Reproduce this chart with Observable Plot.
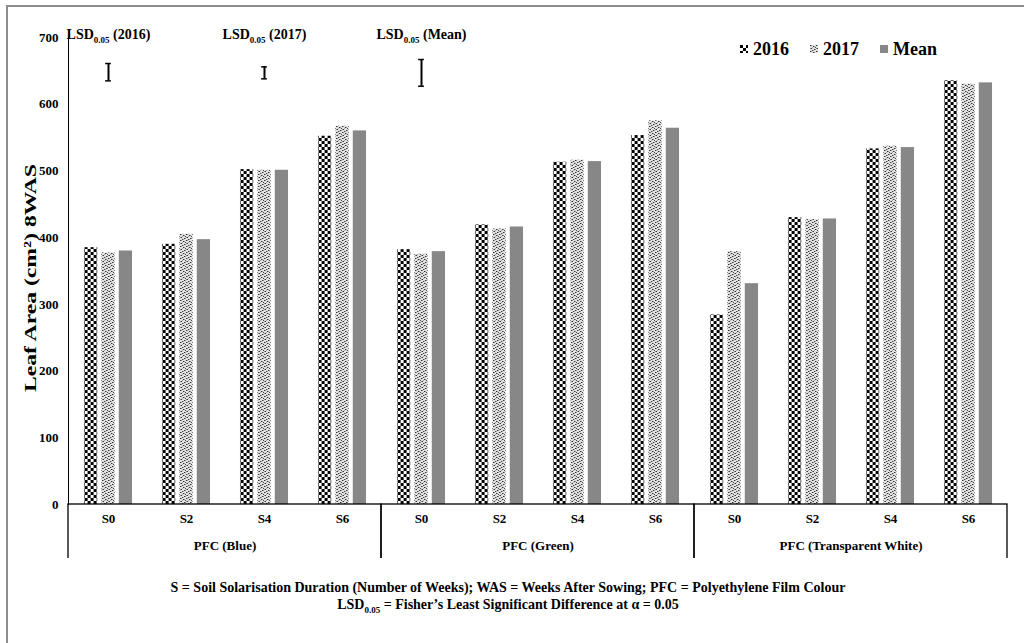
<!DOCTYPE html>
<html><head><meta charset="utf-8">
<script src="https://cdn.jsdelivr.net/npm/d3@7"></script>
<script src="https://cdn.jsdelivr.net/npm/@observablehq/plot@0.6"></script>
<style>
html,body{margin:0;padding:0;background:#fff;width:1024px;height:643px;overflow:hidden;}
body{position:relative;font-family:"Liberation Serif","Times New Roman",serif;font-weight:bold;color:#000;}
#chart{position:absolute;left:0;top:0;}
#chart svg{overflow:hidden;}
#border{position:absolute;left:6px;top:5px;width:1100px;height:700px;border:2px solid #8c8c8c;box-sizing:border-box;pointer-events:none;}
#legend{position:absolute;top:38px;left:740px;display:flex;align-items:center;font-size:18px;line-height:22px;}
#legend .item{display:flex;align-items:center;margin-right:21px;}
#legend svg{margin-right:5px;}
#caption{position:absolute;top:579px;left:0;width:1016px;text-align:center;font-size:14px;line-height:17px;}
#caption sub{font-size:9px;}
</style></head>
<body>
<svg width="0" height="0" style="position:absolute">
  <defs>
    <pattern id="p2016" width="6" height="6" patternUnits="userSpaceOnUse">
      <rect width="6" height="6" fill="#fff"/>
      <rect width="3" height="3" fill="#000"/>
      <rect x="3" y="3" width="3" height="3" fill="#000"/>
    </pattern>
    <pattern id="p2017" width="6" height="6" patternUnits="userSpaceOnUse">
      <rect width="6" height="6" fill="#e2e2e2"/>
      <rect x="0" y="0" width="1" height="1" fill="#333"/>
      <rect x="3" y="1" width="1" height="1" fill="#333"/>
      <rect x="1" y="3" width="1" height="1" fill="#333"/>
      <rect x="4" y="4" width="1" height="1" fill="#333"/>
      <rect x="2" y="5" width="1" height="1" fill="#444"/>
      <rect x="5" y="2" width="1" height="1" fill="#444"/>
      <rect x="1" y="0" width="1" height="1" fill="#8c8c8c"/>
      <rect x="4" y="1" width="1" height="1" fill="#8c8c8c"/>
      <rect x="0" y="3" width="1" height="1" fill="#8c8c8c"/>
      <rect x="5" y="4" width="1" height="1" fill="#8c8c8c"/>
      <rect x="2" y="2" width="1" height="1" fill="#a0a0a0"/>
      <rect x="3" y="5" width="1" height="1" fill="#a0a0a0"/>
    </pattern>
  </defs>
</svg>
<div id="chart"></div>
<div id="legend"></div>
<div id="caption"></div>
<div id="border"></div>
<script>
// ---- data ----
const groups = ["PFC (Blue)", "PFC (Green)", "PFC (Transparent White)"];
const durations = ["S0", "S2", "S4", "S6"];
const series = ["2016", "2017", "Mean"];
const v2016 = [385, 390, 502, 552, 382, 419, 513, 553, 284, 430, 533, 635];
const v2017 = [377, 405, 501, 567, 375, 413, 516, 575, 379, 427, 537, 630];
const vMean = [380, 397, 501, 560, 379, 416, 514, 564, 331, 428, 535, 632];
const yTicks = [0, 100, 200, 300, 400, 500, 600, 700];
const lsdNames = ["2016", "2017", "Mean"];
const lsdValues = [26, 18, 40];
const lsdCenters = [648, 647, 647];
const lsdGroups = ["PFC (Blue)", "PFC (Blue)", "PFC (Green)"];
const lsdDurations = ["S0", "S4", "S0"];
const yLabel = "Leaf Area (cm\u00B2) 8WAS";
const captionLines = [
  "S = Soil Solarisation Duration (Number of Weeks); WAS = Weeks After Sowing; PFC = Polyethylene Film Colour",
  "LSD<sub>0.05</sub> = Fisher\u2019s Least Significant Difference at \u03B1 = 0.05"
];

// ---- styles ----
const fills = ["url(#p2016)", "url(#p2017)", "#878787"];
const W = 1024, H = 558, mL = 68, mR = 17, mT = 37, mB = 54;
const band = (W - mL - mR) / (groups.length * durations.length);
const barW = 13.5, barStep = 17.4;
const barInset = (band - barW) / 2;
const capInset = (band - 6) / 2;

const valuesBySeries = [v2016, v2017, vMean];
const rows = [];
groups.forEach((g, gi) => durations.forEach((s, si) => {
  const k = gi * durations.length + si;
  series.forEach((name, j) => rows.push({group: g, S: s, series: name, value: valuesBySeries[j][k]}));
}));
const lsd = lsdNames.map((n, i) => ({
  name: n, group: lsdGroups[i], S: lsdDurations[i],
  lo: lsdCenters[i] - lsdValues[i] / 2, hi: lsdCenters[i] + lsdValues[i] / 2
}));

const chart = Plot.plot({
  width: W, height: H,
  marginLeft: mL, marginRight: mR, marginTop: mT, marginBottom: mB,
  style: {fontFamily: '"Liberation Serif","Times New Roman",serif', fontSize: "13px", fontWeight: "bold", background: "transparent", color: "#000"},
  fx: {domain: groups, padding: 0, axis: "bottom", tickSize: 0, tickPadding: 36, label: null},
  x: {domain: durations, padding: 0, axis: "bottom", tickSize: 0, tickPadding: 9, label: null},
  y: {domain: [0, 700], ticks: yTicks, tickSize: 0, tickPadding: 10, line: true,
      label: yLabel, labelAnchor: "center", labelOffset: 45, labelArrow: "none"},
  marks: [
    ...series.map((name, k) => Plot.barY(rows.filter(d => d.series === name), {
      fx: "group", x: "S", y: "value", fill: fills[k],
      insetLeft: barInset, insetRight: barInset, dx: (k - 1) * barStep
    })),
    Plot.rect([null], {y1: 0, y2: -120, fill: "none", stroke: "#000", strokeWidth: 1.3}),
    Plot.ruleX(lsd, {fx: "group", x: "S", y1: "lo", y2: "hi", strokeWidth: 2}),
    Plot.tickY(lsd, {fx: "group", x: "S", y: "lo", inset: capInset, strokeWidth: 1.5}),
    Plot.tickY(lsd, {fx: "group", x: "S", y: "hi", inset: capInset, strokeWidth: 1.5}),
    Plot.text(lsd, {fx: "group", x: "S", frameAnchor: "top", dy: -8, fontSize: 14,
      text: d => `LSD0.05 (${d.name})`})
  ]
});
document.getElementById("chart").appendChild(chart);

// subscripts in the LSD labels
d3.select(chart).selectAll("text").each(function() {
  const t = this.textContent;
  if (t.startsWith("LSD0.05")) {
    const rest = t.slice(7);
    this.textContent = "";
    const s = d3.select(this);
    s.append("tspan").text("LSD");
    s.append("tspan").attr("font-size", 9).attr("dy", 4).text("0.05");
    s.append("tspan").attr("dy", -4).text(rest);
  }
});
d3.select(chart).selectAll('[aria-label="y-axis label"] text')
  .style("font-size", "17px")
  .attr("textLength", 228)
  .attr("lengthAdjust", "spacingAndGlyphs")
  .attr("dx", -7);

// legend
const legend = d3.select("#legend");
series.forEach((name, k) => {
  const item = legend.append("div").attr("class", "item");
  item.append("svg").attr("width", 8).attr("height", 8)
    .append("rect").attr("width", 8).attr("height", 8).attr("fill", fills[k]);
  item.append("span").text(name);
});

// caption
const cap = d3.select("#caption");
captionLines.forEach(l => cap.append("div").html(l));
</script>
</body></html>
